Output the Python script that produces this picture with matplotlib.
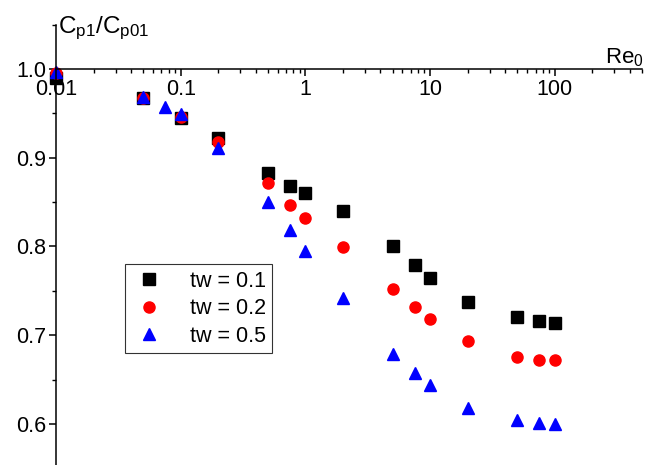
import matplotlib
matplotlib.use("Agg")
import matplotlib.pyplot as plt
from matplotlib.ticker import FixedLocator, LogLocator, MultipleLocator, FixedFormatter, NullFormatter

plt.rcParams['font.family'] = ['Liberation Sans', 'DejaVu Sans']

# data
re0 = [0.01, 0.05, 0.1, 0.2, 0.5, 0.75, 1, 2, 5, 7.5, 10, 20, 50, 75, 100]
re0_tri = [0.01, 0.05, 0.075, 0.1, 0.2, 0.5, 0.75, 1, 2, 5, 7.5, 10, 20, 50, 75, 100]
tw01 = [0.990, 0.967, 0.945, 0.922, 0.883, 0.868, 0.860, 0.840, 0.800, 0.779, 0.764, 0.738, 0.720, 0.716, 0.714]
tw02 = [0.995, 0.967, 0.946, 0.918, 0.872, 0.847, 0.832, 0.799, 0.752, 0.732, 0.718, 0.693, 0.676, 0.672, 0.672]
tw05 = [0.997, 0.968, 0.957, 0.949, 0.911, 0.850, 0.819, 0.795, 0.742, 0.679, 0.658, 0.644, 0.618, 0.604, 0.601, 0.600]
labels = ["tw = 0.1", "tw = 0.2", "tw = 0.5"]
xticks = [0.01, 0.1, 1, 10, 100]
xticklabels = ["0.01", "0.1", "1", "10", "100"]
yticks = [0.6, 0.7, 0.8, 0.9, 1.0]

fig = plt.figure(figsize=(6.48, 4.65), dpi=100)
ax = fig.add_axes([56/648, 0, 586/648, 440.4/465])

ax.plot(re0, tw01, 's', color='black', ms=8, label=labels[0], clip_on=False)
ax.plot(re0, tw02, 'o', color='#ff0000', ms=8, label=labels[1], clip_on=False)
ax.plot(re0_tri, tw05, '^', color='#0000ff', ms=9, label=labels[2], clip_on=False)

ax.set_xscale('log')
ax.set_xlim(0.01, 500)
ax.set_ylim(0.5538, 1.05)

ax.spines['top'].set_visible(False)
ax.spines['right'].set_visible(False)
ax.spines['bottom'].set_position(('data', 1.0))
for s in ['left', 'bottom']:
    ax.spines[s].set_linewidth(1.1)

ax.xaxis.set_major_locator(FixedLocator(xticks))
ax.xaxis.set_major_formatter(FixedFormatter(xticklabels))
ax.xaxis.set_minor_locator(LogLocator(base=10, subs=range(2, 10)))
ax.xaxis.set_minor_formatter(NullFormatter())
ax.yaxis.set_major_locator(FixedLocator(yticks))
ax.yaxis.set_minor_locator(MultipleLocator(0.05))
ax.set_yticklabels([f"{v:.1f}" for v in yticks])

ax.tick_params(which='major', direction='out', length=5, width=1.1, labelsize=15.5, pad=2)
ax.tick_params(which='minor', direction='out', length=3, width=1.0)

leg = ax.legend(loc='upper left', bbox_to_anchor=(0.118, 0.456), borderaxespad=0,
                fontsize=15.5, frameon=True, fancybox=False, edgecolor='black',
                handletextpad=1.1, labelspacing=0.3, borderpad=0.3, handlelength=1.6)
leg.get_frame().set_linewidth(0.8)

fig.text(58/648, 1 - 33/465, r'$\mathregular{C_{p1}/C_{p01}}$', fontsize=17.5, va='baseline', ha='left')
fig.text(605/648, 1 - 63/465, r'$\mathregular{Re_{0}}$', fontsize=16, va='baseline', ha='left')

fig.savefig("out.png", dpi=100)
